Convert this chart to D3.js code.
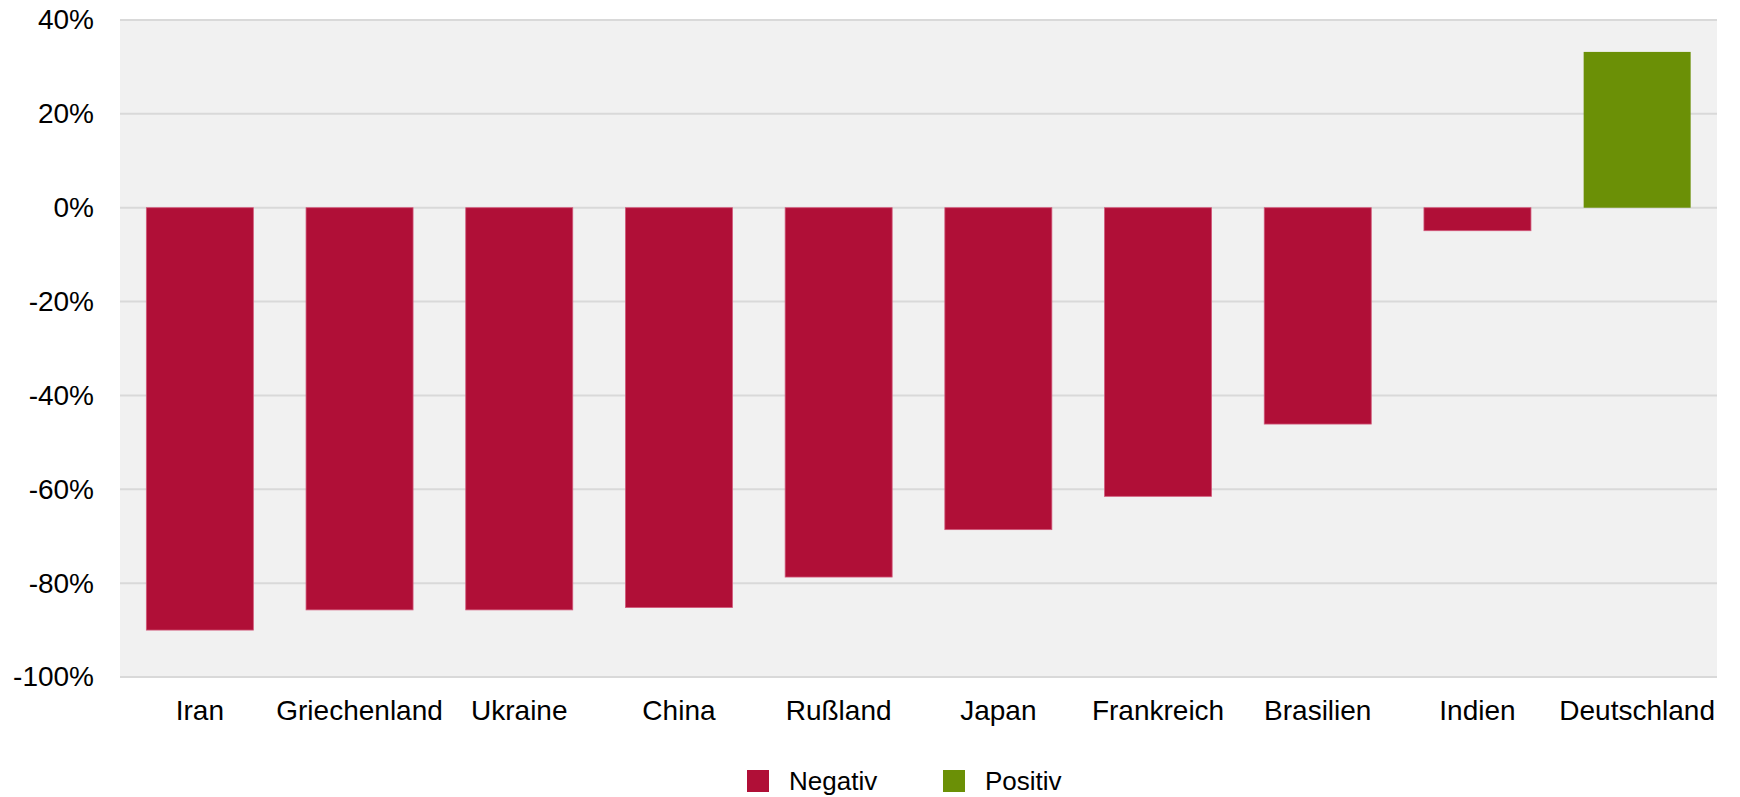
<!DOCTYPE html>
<html>
<head>
<meta charset="utf-8">
<script src="https://cdn.jsdelivr.net/npm/d3@7/dist/d3.min.js"></script>
<style>
    html, body { margin: 0; padding: 0; background: #fff; }
    text { font-family: "Liberation Sans", Arial, sans-serif; fill: #000; }
</style>
</head>
<body>
<div id="wrapper"></div>
<script>
const countries = ['Iran', 'Griechenland', 'Ukraine', 'China', 'Rußland', 'Japan', 'Frankreich', 'Brasilien', 'Indien', 'Deutschland'];
const changes = [-90.0, -85.7, -85.7, -85.2, -78.7, -68.6, -61.5, -46.1, -4.9, 33.2];
const yTicks = [-100, -80, -60, -40, -20, 0, 20, 40];
const legendLabels = ['Negativ', 'Positiv'];

const dataset = countries.map((c, i) => ({ country: c, value: changes[i] }));

const dimensions = {
    width: 1740,
    height: 797,
    margin: { top: 20, right: 23, bottom: 120, left: 120 }
};
dimensions.boundedWidth = dimensions.width - dimensions.margin.left - dimensions.margin.right;
dimensions.boundedHeight = dimensions.height - dimensions.margin.top - dimensions.margin.bottom;

const negColor = '#b00f37';
const posColor = '#6b9006';

const wrapper = d3.select('#wrapper')
    .append('svg')
    .attr('width', dimensions.width)
    .attr('height', dimensions.height);

const bounds = wrapper.append('g')
    .attr('transform', `translate(${dimensions.margin.left},${dimensions.margin.top})`);

const xScale = d3.scaleBand()
    .domain(countries)
    .range([0, dimensions.boundedWidth])
    .paddingInner(0.33)
    .paddingOuter(0.165);

const yScale = d3.scaleLinear()
    .domain([-100, 40])
    .range([dimensions.boundedHeight, 0]);

// plot background
bounds.append('rect')
    .attr('x', 0)
    .attr('y', 0)
    .attr('width', dimensions.boundedWidth)
    .attr('height', dimensions.boundedHeight)
    .attr('fill', '#f1f1f1');

// gridlines
bounds.append('g')
    .selectAll('line')
    .data(yTicks)
    .enter()
    .append('line')
    .attr('x1', 0)
    .attr('x2', dimensions.boundedWidth)
    .attr('y1', d => yScale(d))
    .attr('y2', d => yScale(d))
    .attr('stroke', '#d9d9d9')
    .attr('stroke-width', 2);

// bars
bounds.append('g')
    .selectAll('rect')
    .data(dataset)
    .enter()
    .append('rect')
    .attr('x', d => xScale(d.country))
    .attr('width', xScale.bandwidth())
    .attr('y', d => yScale(Math.max(0, d.value)))
    .attr('height', d => Math.abs(yScale(d.value) - yScale(0)))
    .attr('fill', d => d.value < 0 ? negColor : posColor)
    .attr('stroke', d => d.value < 0 ? '#d2587a' : 'none')
    .attr('stroke-width', 0.8);

// y axis
const yAxisGenerator = d3.axisLeft(yScale)
    .tickValues(yTicks)
    .tickSize(0)
    .tickPadding(26)
    .tickFormat(d => d + '%');

const yAxis = bounds.append('g')
    .call(yAxisGenerator);
yAxis.select('.domain').remove();
yAxis.selectAll('text')
    .style('font-size', '28px')
    .attr('fill', '#000');

// x axis
const xAxisGenerator = d3.axisBottom(xScale)
    .tickSize(0)
    .tickPadding(23);

const xAxis = bounds.append('g')
    .attr('transform', `translate(0,${dimensions.boundedHeight})`)
    .call(xAxisGenerator);
xAxis.select('.domain').remove();
xAxis.selectAll('text')
    .style('font-size', '28px')
    .attr('fill', '#000');

// legend
const legendX = [747, 943];
const legend = wrapper.append('g');
legendLabels.forEach((label, i) => {
    legend.append('rect')
        .attr('x', legendX[i])
        .attr('y', 770)
        .attr('width', 22)
        .attr('height', 22)
        .attr('fill', i === 0 ? negColor : posColor);
    legend.append('text')
        .attr('x', legendX[i] + 42)
        .attr('y', 790)
        .style('font-size', '26px')
        .text(label);
});
</script>
</body>
</html>
